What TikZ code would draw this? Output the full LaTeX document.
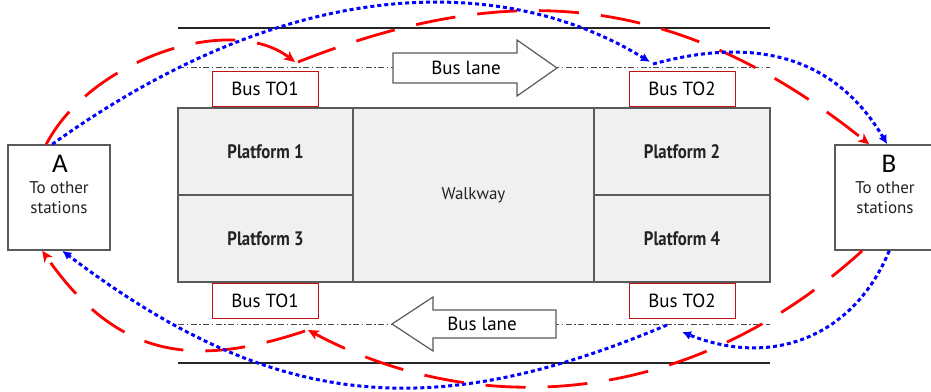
\documentclass[tikz,border=0pt]{standalone}
\usepackage{fontspec}
\setmainfont{PT Sans}
\newfontfamily\letterfont{Carlito}
\newfontfamily\platfont[FakeStretch=0.86]{PT Sans Bold}
\usetikzlibrary{arrows.meta}
\definecolor{platfill}{RGB}{240,240,240}
\definecolor{edgegray}{RGB}{90,90,90}
\definecolor{stopred}{RGB}{192,20,20}
\definecolor{routered}{RGB}{255,0,0}
\definecolor{routeblue}{RGB}{0,0,255}
\definecolor{textdark}{RGB}{35,35,35}
\begin{document}
\begin{tikzpicture}[x=1pt,y=-1pt,
  road/.style={line width=1.2pt, black!85},
  lanemark/.style={line width=1pt, black!70, dash pattern=on 6pt off 2.5pt on 1.5pt off 2.5pt},
  platform/.style={draw=edgegray, fill=platfill, line width=1.5pt, inner sep=0pt,
    text=textdark, font=\platfont\fontsize{19.5}{21}\selectfont},
  stopbox/.style={draw=stopred, line width=1pt, fill=white, minimum width=106pt,
    minimum height=35pt, inner sep=0pt, font=\fontsize{19}{20}\selectfont},
  stationbox/.style={draw=edgegray, line width=1.5pt, fill=white,
    minimum width=102pt, minimum height=105pt, inner sep=0pt},
  stationtext/.style={anchor=base, text=textdark, font=\fontsize{17}{18}\selectfont},
  stationletter/.style={anchor=base, font=\letterfont\fontsize{27}{30}\selectfont},
  lanearrow/.style={draw=edgegray, fill=white, line width=1.2pt, line join=miter},
  lanetext/.style={font=\fontsize{19}{20}\selectfont},
  redroute/.style={routered, line width=2.8pt, dash pattern=on 40pt off 22pt,
    -{Stealth[length=11pt,width=10pt,inset=3pt]}},
  blueroute/.style={routeblue, line width=3pt, dash pattern=on 4pt off 3pt,
    -{Latex[length=9pt,width=9pt]}}
]
% canvas
\path[fill=white] (0,0) rectangle (931,391);
\useasboundingbox (0,0) rectangle (931,391);

% road edges and lane markings
\draw[road] (178,28) -- (770,28);
\draw[road] (178,363) -- (770,363);
\draw[lanemark] (178,67) -- (770,67);
\draw[lanemark] (178,324) -- (770,324);

% platforms and walkway
\node[platform, minimum width=175pt, minimum height=87pt] (p1) at (265.5,151.5) {Platform 1};
\node[platform, minimum width=175pt, minimum height=87pt] (p3) at (265.5,238.5) {Platform 3};
\node[platform, minimum width=241pt, minimum height=174pt, font=\fontsize{17}{18}\selectfont] (walk) at (473.5,195) {Walkway};
\node[platform, minimum width=176pt, minimum height=87pt] (p2) at (682,151.5) {Platform 2};
\node[platform, minimum width=176pt, minimum height=87pt] (p4) at (682,238.5) {Platform 4};

% bus stops
\node[stopbox] (tot1top) at (265,89) {Bus TO1};
\node[stopbox] (tot2top) at (682,89) {Bus TO2};
\node[stopbox] (tot1bot) at (265,301) {Bus TO1};
\node[stopbox] (tot2bot) at (682,301) {Bus TO2};

% direction of the bus lanes
\draw[lanearrow] (393,53) -- (517,53) -- (517,40) -- (557,68) -- (517,96) -- (517,83) -- (393,83) -- cycle;
\node[lanetext] (laneE) at (466,68) {Bus lane};
\draw[lanearrow] (556,310) -- (433,310) -- (433,297) -- (392,324) -- (433,351) -- (433,338) -- (556,338) -- cycle;
\node[lanetext] (laneW) at (482,324) {Bus lane};

% stations at both ends
\node[stationbox] (A) at (59,197.5) {};
\node[stationletter] (Aname) at (60,172) {A};
\node[stationtext] (Aline1) at (59,193) {To other};
\node[stationtext] (Aline2) at (59,213) {stations};
\node[stationbox] (B) at (886,197.5) {};
\node[stationletter] (Bname) at (889,172) {B};
\node[stationtext] (Bline1) at (885,193) {To other};
\node[stationtext] (Bline2) at (885,213) {stations};

% route end points
\coordinate (A-out-r) at ([xshift=39pt]A.north west);
\coordinate (A-out-b) at ([xshift=45pt]A.north west);
\coordinate (A-in-r) at ([xshift=35pt]A.south west);
\coordinate (A-in-b) at ([xshift=55pt]A.south west);
\coordinate (B-in-r) at ([xshift=35pt]B.north west);
\coordinate (B-in-b) at ([xshift=53pt]B.north west);
\coordinate (B-out-r) at ([xshift=28pt]B.south west);
\coordinate (B-out-b) at ([xshift=55pt]B.south west);
\coordinate (t1t-in) at ([xshift=30pt,yshift=9pt]tot1top.north);
\coordinate (t1t-out) at ([xshift=33pt,yshift=9pt]tot1top.north);
\coordinate (t2t-in) at ([xshift=-32pt,yshift=9pt]tot2top.north);
\coordinate (t2t-out) at ([xshift=-29pt,yshift=7pt]tot2top.north);
\coordinate (t1b-in) at ([xshift=43pt,yshift=-11pt]tot1bot.south);
\coordinate (t1b-out) at ([xshift=40pt,yshift=-12pt]tot1bot.south);
\coordinate (t2b-in) at ([xshift=0pt,yshift=-13pt]tot2bot.south);
\coordinate (t2b-out) at ([xshift=-15pt,yshift=-6pt]tot2bot.south);

% red route
\draw[redroute] (A-out-r) .. controls (90,60) and (230,12) .. (t1t-in);
\draw[redroute] (t1t-out) .. controls (498,-17) and (670,-15) .. (B-in-r);
\draw[redroute] (B-out-r) .. controls (680,416) and (466,415) .. (t1b-in);
\draw[redroute] (t1b-out) .. controls (191,369) and (116,357) .. (A-in-r);

% blue route
\draw[blueroute] (A-out-b) .. controls (311,-41) and (522,-17) .. (t2t-in);
\draw[blueroute] (t2t-out) .. controls (730,43) and (825,40) .. (B-in-b);
\draw[blueroute] (B-out-b) .. controls (855,334) and (775,369) .. (t2b-in);
\draw[blueroute] (t2b-out) .. controls (428,426) and (270,408) .. (A-in-b);
\end{tikzpicture}
\end{document}
